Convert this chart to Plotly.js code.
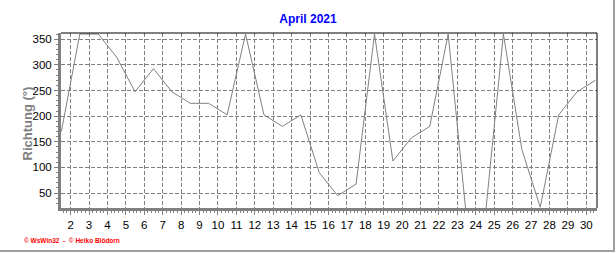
<!DOCTYPE html>
<html>
<head>
<meta charset="utf-8">
<script src="https://cdn.plot.ly/plotly-3.0.1.min.js"></script>
<style>
  html, body { margin: 0; padding: 0; background: #fff; }
  #wrap { position: relative; width: 616px; height: 253px; overflow: hidden; }
  #chart { width: 616px; height: 253px; }
  #frameR { position: absolute; left: 613px; top: 0; width: 2px; height: 252px; background: #a0a0a0; }
  #frameB { position: absolute; left: 0; top: 250px; width: 615px; height: 2px; background: #a0a0a0; }
</style>
</head>
<body>
<div id="wrap">
  <div id="chart"></div>
  <div id="frameR"></div>
  <div id="frameB"></div>
</div>
<script>
// Day of April 2021 (each daily value plotted at midday)
const days = [1,2,3,4,5,6,7,8,9,10,11,12,13,14,15,16,17,18,19,20,21,22,23,24,25,26,27,28,29,30];
// Wind direction (degrees)
const richtung = [170,360,360,315,247.5,292.5,247.5,225,225,202.5,360,202.5,180,202.5,90,45,67.5,360,112.5,157.5,180,360,0,0,360,135,22.5,202.5,247.5,270];

const chartTitle = 'April 2021';
const yTitle = 'Richtung (°)';
const footer = '© WsWin32  -  © Heiko Blödorn';

const xPos = days.map(d => d + 0.5);

const trace = {
  x: xPos,
  y: richtung,
  type: 'scatter',
  mode: 'lines',
  line: { color: '#808080', width: 1 },
  hoverinfo: 'skip'
};

const tickFont = { family: 'Arial, Liberation Sans, sans-serif', size: 11.5, color: '#000' };
const gridDash = '4px,2px';

const layout = {
  width: 616,
  height: 253,
  margin: { l: 61, r: 19, t: 33, b: 45 },
  paper_bgcolor: '#fff',
  plot_bgcolor: '#fff',
  showlegend: false,
  title: {
    text: '<b>' + chartTitle + '</b>',
    font: { family: 'Arial, Liberation Sans, sans-serif', size: 12, color: '#0000ff' },
    xref: 'container', x: 0.5, xanchor: 'center',
    yref: 'container', y: 1 - 19 / 253, yanchor: 'middle'
  },
  xaxis: {
    range: [1.48, 30.58],
    tick0: 2, dtick: 1,
    showgrid: true, gridcolor: '#808080', gridwidth: 1, griddash: gridDash,
    zeroline: false,
    showline: true, linecolor: '#808080', linewidth: 3, mirror: false,
    ticks: 'outside', ticklen: 4, tickcolor: '#808080', tickwidth: 1,
    minor: { dtick: 0.2, tick0: 2, ticks: 'outside', ticklen: 2, tickcolor: '#808080', tickwidth: 1, showgrid: false },
    tickfont: tickFont,
    fixedrange: true
  },
  yaxis: {
    range: [21, 362],
    tick0: 50, dtick: 50,
    showgrid: true, gridcolor: '#808080', gridwidth: 1, griddash: gridDash,
    zeroline: false,
    showline: true, linecolor: '#808080', linewidth: 3, mirror: false,
    ticks: 'outside', ticklen: 4, tickcolor: '#808080', tickwidth: 1,
    minor: { dtick: 10, ticks: 'outside', ticklen: 2, tickcolor: '#808080', tickwidth: 1, showgrid: false },
    tickfont: tickFont,
    automargin: false,
    fixedrange: true
  },
  shapes: [
    { type: 'line', xref: 'paper', yref: 'paper', x0: 0, x1: 1, y0: 1, y1: 1, line: { color: '#000', width: 1 } },
    { type: 'line', xref: 'paper', yref: 'paper', x0: 1, x1: 1, y0: 0, y1: 1, line: { color: '#000', width: 1 } }
  ],
  annotations: [
    {
      text: '<b>' + yTitle + '</b>',
      textangle: -90,
      xref: 'paper', yref: 'paper',
      x: (27 - 61) / 536, xanchor: 'center',
      y: (208 - 123.5) / 175, yanchor: 'middle',
      showarrow: false,
      font: { family: 'Arial, Liberation Sans, sans-serif', size: 13, color: '#808080' }
    },
    {
      text: '<b>' + footer + '</b>',
      xref: 'paper', yref: 'paper',
      x: (22 - 61) / 536, xanchor: 'left',
      y: (208 - 240) / 175, yanchor: 'middle',
      showarrow: false,
      font: { family: 'Arial, Liberation Sans, sans-serif', size: 6.5, color: '#ff0000' }
    }
  ]
};

Plotly.newPlot('chart', [trace], layout, { staticPlot: true, displayModeBar: false });
</script>
</body>
</html>
